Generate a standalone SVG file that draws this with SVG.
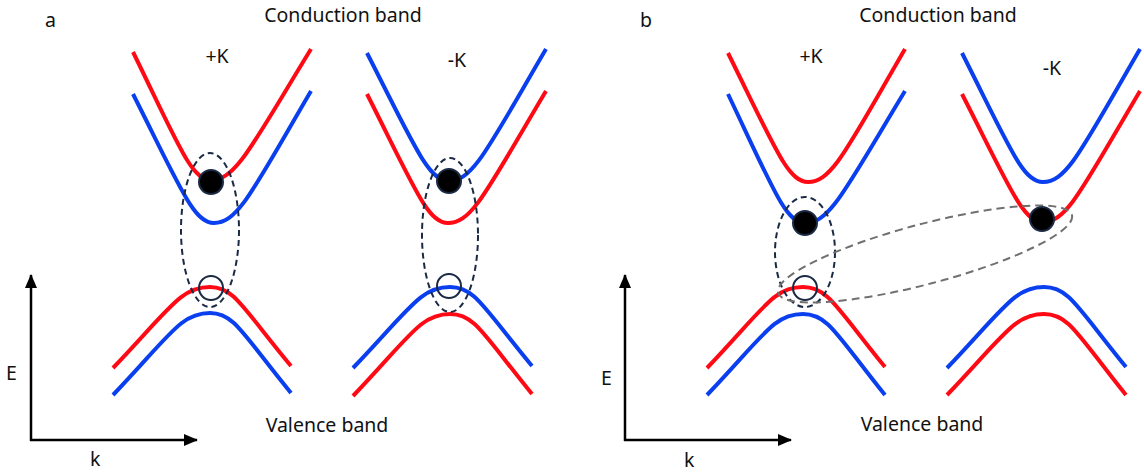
<svg xmlns="http://www.w3.org/2000/svg" width="1144" height="473" viewBox="0 0 1144 473">
<style>
text{font-family:"Noto Sans","Open Sans","Liberation Sans",sans-serif;font-size:19.5px;fill:#111}
.r{fill:none;stroke:#ff0a14;stroke-width:4;stroke-linecap:butt}
.b{fill:none;stroke:#0a3ff0;stroke-width:4;stroke-linecap:butt}
.ex{fill:none;stroke:#1b2a44;stroke-width:2;stroke-dasharray:6 4}
.eg{fill:none;stroke:#707070;stroke-width:2;stroke-dasharray:8 5}
.el{fill:#000;stroke:#1b2a44;stroke-width:2}
.ho{fill:none;stroke:#1b2a44;stroke-width:2}
.ax{fill:none;stroke:#000;stroke-width:2.5}
</style>
<defs>
<marker id="arr" markerUnits="userSpaceOnUse" markerWidth="14" markerHeight="12" refX="13" refY="6" orient="auto">
<path d="M0,0 L14,6 L0,12 Z" fill="#000"/>
</marker>
</defs>
<g id="labels">
<text x="45" y="27">a</text>
<text x="640" y="27">b</text>
<text x="343" y="22" text-anchor="middle">Conduction band</text>
<text x="938" y="22" text-anchor="middle">Conduction band</text>
<text x="327" y="432" text-anchor="middle">Valence band</text>
<text x="922" y="431" text-anchor="middle">Valence band</text>
<text x="217" y="63" text-anchor="middle">+K</text>
<text x="457" y="67" text-anchor="middle">-K</text>
<text x="811" y="63" text-anchor="middle">+K</text>
<text x="1052" y="75" text-anchor="middle">-K</text>
</g>
<g id="axes-a">
<path class="ax" d="M31,441 L31,275" marker-end="url(#arr)"/>
<path class="ax" d="M30,440 L197,440" marker-end="url(#arr)"/>
<text x="6" y="380">E</text>
<text x="90" y="466">k</text>
</g>
<g id="axes-b">
<path class="ax" d="M625,441 L625,275" marker-end="url(#arr)"/>
<path class="ax" d="M624,440 L791,440" marker-end="url(#arr)"/>
<text x="601" y="385">E</text>
<text x="684" y="467">k</text>
</g>
<g id="bands-a-plusK">
<path class="r" d="M133,52 C180,148 191.5,180 211,180 C236,180 251,147 311,49"/>
<path class="b" d="M133,94 C182,191 194,223 214,223 C238,223 253,190 311,91"/>
<path class="r" d="M113,368 C171,307 181,287 210,287 C234,287 242,307 291,366"/>
<path class="b" d="M113,395 C171,334 181,313 210,313 C234,313 242,333 291,393"/>
</g>
<g id="bands-a-minusK">
<path class="b" d="M367,53 C416,149 428.5,181 449,181 C473,181 488,148 546,49"/>
<path class="r" d="M367,94 C416,191 428,223 448,223 C472.5,223 487,190 546,91"/>
<path class="b" d="M353,368 C411,307 421,287 450,287 C475,287 483,307 532,366"/>
<path class="r" d="M353,396 C411,335 421,314 450,314 C475,314 483,334 532,394"/>
</g>
<g id="bands-b-plusK">
<path class="r" d="M728,53 C776,150 788,182 808,182 C832,182 847,149 905,49"/>
<path class="b" d="M728,94 C774,191 786,223 805,223 C830,223 845,190 905,91"/>
<path class="r" d="M707,368 C765,307 774,287 803,287 C828,287 836,307 885,367"/>
<path class="b" d="M707,395 C765,334 774,314 803,314 C828,314 836,334 885,395"/>
</g>
<g id="bands-b-minusK">
<path class="b" d="M962,53 C1011,150 1023,182 1043,182 C1067,182 1082,149 1140,49"/>
<path class="r" d="M962,94 C1011,190 1023,222 1043,222 C1067,222 1082,189 1140,91"/>
<path class="b" d="M947,368 C1005,307 1015,287 1044,287 C1069,287 1077,307 1126,367"/>
<path class="r" d="M947,395 C1005,334 1015,314 1044,314 C1069,314 1077,334 1126,395"/>
</g>
<g id="exciton-a-plusK">
<ellipse class="ex" cx="210" cy="230" rx="29" ry="77"/>
<circle class="el" cx="211" cy="182" r="12"/>
<circle class="ho" cx="211" cy="288" r="12"/>
</g>
<g id="exciton-a-minusK">
<ellipse class="ex" cx="450" cy="235" rx="28" ry="77"/>
<circle class="el" cx="449" cy="181" r="12"/>
<circle class="ho" cx="449" cy="286" r="12"/>
</g>
<g id="exciton-b-bright">
<ellipse class="ex" cx="805" cy="252" rx="30" ry="55"/>
<circle class="el" cx="805" cy="223" r="12"/>
<circle class="ho" cx="805" cy="288" r="12"/>
</g>
<g id="exciton-b-dark">
<ellipse class="eg" cx="925" cy="254" rx="152" ry="30" transform="rotate(-14.8 925 254)"/>
<circle class="el" cx="1042" cy="219" r="12"/>
</g>
</svg>
